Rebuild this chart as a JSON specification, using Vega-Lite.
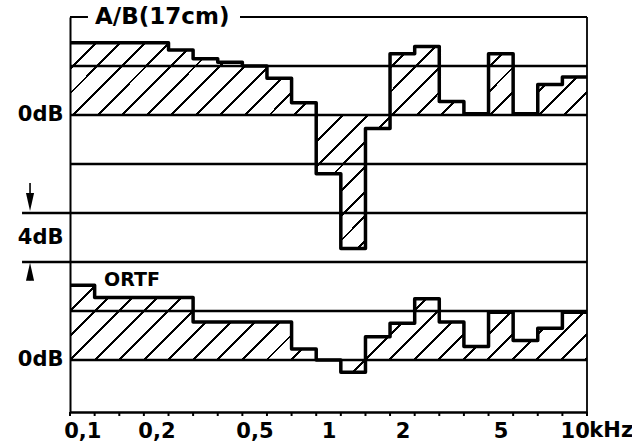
{
  "$schema": "https://vega.github.io/schema/vega-lite/v6.json",
  "width": 517,
  "height": 395,
  "autosize": {"type": "none"},
  "padding": {"left": 70, "top": 17, "right": 45, "bottom": 29},
  "background": "white",
  "config": {"view": {"stroke": null}, "font": "DejaVu Sans"},
  "datasets": {
    "ab": [
      {"f": 0.0891, "db": 5.9}, {"f": 0.1122, "db": 5.9}, {"f": 0.1413, "db": 5.9}, {"f": 0.1778, "db": 5.9},
      {"f": 0.2239, "db": 5.3}, {"f": 0.2818, "db": 4.6}, {"f": 0.3548, "db": 4.3}, {"f": 0.4467, "db": 4.0},
      {"f": 0.5623, "db": 3.0}, {"f": 0.7079, "db": 1.0}, {"f": 0.8913, "db": -4.8}, {"f": 1.122, "db": -10.9},
      {"f": 1.413, "db": -1.1}, {"f": 1.778, "db": 5.0}, {"f": 2.239, "db": 5.6}, {"f": 2.818, "db": 1.1},
      {"f": 3.548, "db": 0.1}, {"f": 4.467, "db": 5.0}, {"f": 5.623, "db": 0.1}, {"f": 7.079, "db": 2.5},
      {"f": 8.913, "db": 3.1}, {"f": 11.22, "db": 3.1}
    ],
    "ortf": [
      {"f": 0.0891, "db": 6.1}, {"f": 0.1122, "db": 5.1}, {"f": 0.1413, "db": 5.1}, {"f": 0.1778, "db": 5.1},
      {"f": 0.2239, "db": 5.1}, {"f": 0.2818, "db": 3.1}, {"f": 0.3548, "db": 3.1}, {"f": 0.4467, "db": 3.1},
      {"f": 0.5623, "db": 3.1}, {"f": 0.7079, "db": 0.9}, {"f": 0.8913, "db": 0}, {"f": 1.122, "db": -1.0},
      {"f": 1.413, "db": 1.9}, {"f": 1.778, "db": 3.0}, {"f": 2.239, "db": 5.0}, {"f": 2.818, "db": 3.1},
      {"f": 3.548, "db": 1.1}, {"f": 4.467, "db": 3.9}, {"f": 5.623, "db": 1.6}, {"f": 7.079, "db": 2.6},
      {"f": 8.913, "db": 3.9}, {"f": 11.22, "db": 3.9}
    ],
    "levels": [{"lvl": 4}, {"lvl": 0}, {"lvl": -4}, {"lvl": -8}, {"lvl": -12}, {"lvl": -16}, {"lvl": -20}]
  },
  "layer": [
    {
      "data": {"name": "levels"},
      "mark": {"type": "rule", "stroke": "black", "strokeWidth": 2.6},
      "encoding": {
        "x": {
          "datum": 0.0891, "type": "quantitative",
          "scale": {"type": "log", "domain": [0.0891, 11.22], "nice": false},
          "axis": {
            "values": [0.1, 0.2, 0.5, 1, 2, 5, 10],
            "labelExpr": "datum.value == 0.1 ? '0,1' : datum.value == 0.2 ? '0,2' : datum.value == 0.5 ? '0,5' : datum.value == 1 ? '1' : datum.value == 2 ? '2' : datum.value == 5 ? '5' : '10'",
            "ticks": false, "tickSize": 0,
            "domain": true, "domainColor": "black", "domainWidth": 2.5,
            "labelPadding": 8, "labelFont": "DejaVu Sans", "labelFontWeight": "bold", "labelFontSize": 21, "labelColor": "black",
            "labelFlush": false, "labelOverlap": false, "title": null, "grid": false
          }
        },
        "x2": {"datum": 11.22},
        "y": {
          "field": "lvl", "type": "quantitative",
          "scale": {"domain": [-24.245, 8], "nice": false, "zero": false},
          "axis": {
            "values": [0, -10, -20],
            "labelExpr": "datum.value == -10 ? '4dB' : '0dB'",
            "ticks": false, "grid": false, "domain": true, "domainColor": "black", "domainWidth": 2,
            "labelPadding": 7, "labelFont": "DejaVu Sans", "labelFontWeight": "bold", "labelFontSize": 21, "labelColor": "black",
            "labelOverlap": false, "title": null
          }
        }
      }
    },
    {
      "data": {"name": "ab"},
      "mark": {
        "type": "area",
        "interpolate": "step-after",
        "fill": {
          "gradient": "linear", "x1": 0, "y1": 0, "x2": 1.2068, "y2": 0.4774,
          "stops": [
            {"offset": 0, "color": "black"}, {"offset": 0.004, "color": "black"}, {"offset": 0.004, "color": "transparent"}, {"offset": 0.034, "color": "transparent"},
            {"offset": 0.034, "color": "black"}, {"offset": 0.038, "color": "black"}, {"offset": 0.038, "color": "transparent"}, {"offset": 0.068, "color": "transparent"},
            {"offset": 0.068, "color": "black"}, {"offset": 0.072, "color": "black"}, {"offset": 0.072, "color": "transparent"}, {"offset": 0.102, "color": "transparent"},
            {"offset": 0.102, "color": "black"}, {"offset": 0.106, "color": "black"}, {"offset": 0.106, "color": "transparent"}, {"offset": 0.136, "color": "transparent"},
            {"offset": 0.136, "color": "black"}, {"offset": 0.14, "color": "black"}, {"offset": 0.14, "color": "transparent"}, {"offset": 0.17, "color": "transparent"},
            {"offset": 0.17, "color": "black"}, {"offset": 0.174, "color": "black"}, {"offset": 0.174, "color": "transparent"}, {"offset": 0.204, "color": "transparent"},
            {"offset": 0.204, "color": "black"}, {"offset": 0.208, "color": "black"}, {"offset": 0.208, "color": "transparent"}, {"offset": 0.238, "color": "transparent"},
            {"offset": 0.238, "color": "black"}, {"offset": 0.242, "color": "black"}, {"offset": 0.242, "color": "transparent"}, {"offset": 0.272, "color": "transparent"},
            {"offset": 0.272, "color": "black"}, {"offset": 0.276, "color": "black"}, {"offset": 0.276, "color": "transparent"}, {"offset": 0.306, "color": "transparent"},
            {"offset": 0.306, "color": "black"}, {"offset": 0.31, "color": "black"}, {"offset": 0.31, "color": "transparent"}, {"offset": 0.34, "color": "transparent"},
            {"offset": 0.34, "color": "black"}, {"offset": 0.344, "color": "black"}, {"offset": 0.344, "color": "transparent"}, {"offset": 0.374, "color": "transparent"},
            {"offset": 0.374, "color": "black"}, {"offset": 0.378, "color": "black"}, {"offset": 0.378, "color": "transparent"}, {"offset": 0.408, "color": "transparent"},
            {"offset": 0.408, "color": "black"}, {"offset": 0.412, "color": "black"}, {"offset": 0.412, "color": "transparent"}, {"offset": 0.442, "color": "transparent"},
            {"offset": 0.442, "color": "black"}, {"offset": 0.446, "color": "black"}, {"offset": 0.446, "color": "transparent"}, {"offset": 0.476, "color": "transparent"},
            {"offset": 0.476, "color": "black"}, {"offset": 0.48, "color": "black"}, {"offset": 0.48, "color": "transparent"}, {"offset": 0.51, "color": "transparent"},
            {"offset": 0.51, "color": "black"}, {"offset": 0.514, "color": "black"}, {"offset": 0.514, "color": "transparent"}, {"offset": 0.544, "color": "transparent"},
            {"offset": 0.544, "color": "black"}, {"offset": 0.548, "color": "black"}, {"offset": 0.548, "color": "transparent"}, {"offset": 0.578, "color": "transparent"},
            {"offset": 0.578, "color": "black"}, {"offset": 0.582, "color": "black"}, {"offset": 0.582, "color": "transparent"}, {"offset": 0.612, "color": "transparent"},
            {"offset": 0.612, "color": "black"}, {"offset": 0.616, "color": "black"}, {"offset": 0.616, "color": "transparent"}, {"offset": 0.646, "color": "transparent"},
            {"offset": 0.646, "color": "black"}, {"offset": 0.65, "color": "black"}, {"offset": 0.65, "color": "transparent"}, {"offset": 0.68, "color": "transparent"},
            {"offset": 0.68, "color": "black"}, {"offset": 0.684, "color": "black"}, {"offset": 0.684, "color": "transparent"}, {"offset": 0.714, "color": "transparent"},
            {"offset": 0.714, "color": "black"}, {"offset": 0.718, "color": "black"}, {"offset": 0.718, "color": "transparent"}, {"offset": 0.748, "color": "transparent"},
            {"offset": 0.748, "color": "black"}, {"offset": 0.752, "color": "black"}, {"offset": 0.752, "color": "transparent"}, {"offset": 0.782, "color": "transparent"},
            {"offset": 0.782, "color": "black"}, {"offset": 0.786, "color": "black"}, {"offset": 0.786, "color": "transparent"}, {"offset": 0.816, "color": "transparent"},
            {"offset": 0.816, "color": "black"}, {"offset": 0.82, "color": "black"}, {"offset": 0.82, "color": "transparent"}, {"offset": 0.85, "color": "transparent"},
            {"offset": 0.85, "color": "black"}, {"offset": 0.854, "color": "black"}, {"offset": 0.854, "color": "transparent"}, {"offset": 0.884, "color": "transparent"},
            {"offset": 0.884, "color": "black"}, {"offset": 0.888, "color": "black"}, {"offset": 0.888, "color": "transparent"}, {"offset": 0.918, "color": "transparent"},
            {"offset": 0.918, "color": "black"}, {"offset": 0.922, "color": "black"}, {"offset": 0.922, "color": "transparent"}, {"offset": 0.952, "color": "transparent"},
            {"offset": 0.952, "color": "black"}, {"offset": 0.956, "color": "black"}, {"offset": 0.956, "color": "transparent"}, {"offset": 0.986, "color": "transparent"},
            {"offset": 0.986, "color": "black"}, {"offset": 0.99, "color": "black"}, {"offset": 0.99, "color": "transparent"}, {"offset": 1, "color": "transparent"}
          ]
        }
      },
      "encoding": {
        "x": {"field": "f", "type": "quantitative", "scale": {"type": "log", "domain": [0.0891, 11.22], "nice": false}},
        "y": {"field": "db", "type": "quantitative", "scale": {"domain": [-24.245, 8], "nice": false, "zero": false}, "axis": null},
        "y2": {"datum": 0}
      }
    },
    {
      "data": {"name": "ab"},
      "mark": {"type": "line", "interpolate": "step-after", "stroke": "black", "strokeWidth": 3.5, "strokeJoin": "round"},
      "encoding": {
        "x": {"field": "f", "type": "quantitative", "scale": {"type": "log", "domain": [0.0891, 11.22], "nice": false}},
        "y": {"field": "db", "type": "quantitative", "scale": {"domain": [-24.245, 8], "nice": false, "zero": false}, "axis": null}
      }
    },
    {
      "data": {"name": "ab"},
      "mark": {"type": "rule", "stroke": "black", "strokeWidth": 2},
      "encoding": {
        "x": {"field": "f", "type": "quantitative", "scale": {"type": "log", "domain": [0.0891, 11.22], "nice": false}},
        "y": {"datum": -24.245, "type": "quantitative", "scale": {"domain": [-24.245, 8], "nice": false, "zero": false}, "axis": null},
        "y2": {"datum": -24.57}
      }
    },
    {
      "data": {"name": "ortf"},
      "mark": {
        "type": "area",
        "interpolate": "step-after",
        "fill": {
          "gradient": "linear", "x1": 0, "y1": 0, "x2": 1.1361, "y2": 0.1911,
          "stops": [
            {"offset": 0, "color": "black"}, {"offset": 0.0048, "color": "black"}, {"offset": 0.0048, "color": "transparent"}, {"offset": 0.0406, "color": "transparent"},
            {"offset": 0.0406, "color": "black"}, {"offset": 0.0454, "color": "black"}, {"offset": 0.0454, "color": "transparent"}, {"offset": 0.0812, "color": "transparent"},
            {"offset": 0.0812, "color": "black"}, {"offset": 0.086, "color": "black"}, {"offset": 0.086, "color": "transparent"}, {"offset": 0.1218, "color": "transparent"},
            {"offset": 0.1218, "color": "black"}, {"offset": 0.1266, "color": "black"}, {"offset": 0.1266, "color": "transparent"}, {"offset": 0.1624, "color": "transparent"},
            {"offset": 0.1624, "color": "black"}, {"offset": 0.1672, "color": "black"}, {"offset": 0.1672, "color": "transparent"}, {"offset": 0.203, "color": "transparent"},
            {"offset": 0.203, "color": "black"}, {"offset": 0.2078, "color": "black"}, {"offset": 0.2078, "color": "transparent"}, {"offset": 0.2436, "color": "transparent"},
            {"offset": 0.2436, "color": "black"}, {"offset": 0.2484, "color": "black"}, {"offset": 0.2484, "color": "transparent"}, {"offset": 0.2842, "color": "transparent"},
            {"offset": 0.2842, "color": "black"}, {"offset": 0.289, "color": "black"}, {"offset": 0.289, "color": "transparent"}, {"offset": 0.3248, "color": "transparent"},
            {"offset": 0.3248, "color": "black"}, {"offset": 0.3296, "color": "black"}, {"offset": 0.3296, "color": "transparent"}, {"offset": 0.3654, "color": "transparent"},
            {"offset": 0.3654, "color": "black"}, {"offset": 0.3702, "color": "black"}, {"offset": 0.3702, "color": "transparent"}, {"offset": 0.406, "color": "transparent"},
            {"offset": 0.406, "color": "black"}, {"offset": 0.4108, "color": "black"}, {"offset": 0.4108, "color": "transparent"}, {"offset": 0.4466, "color": "transparent"},
            {"offset": 0.4466, "color": "black"}, {"offset": 0.4514, "color": "black"}, {"offset": 0.4514, "color": "transparent"}, {"offset": 0.4872, "color": "transparent"},
            {"offset": 0.4872, "color": "black"}, {"offset": 0.492, "color": "black"}, {"offset": 0.492, "color": "transparent"}, {"offset": 0.5278, "color": "transparent"},
            {"offset": 0.5278, "color": "black"}, {"offset": 0.5326, "color": "black"}, {"offset": 0.5326, "color": "transparent"}, {"offset": 0.5684, "color": "transparent"},
            {"offset": 0.5684, "color": "black"}, {"offset": 0.5732, "color": "black"}, {"offset": 0.5732, "color": "transparent"}, {"offset": 0.609, "color": "transparent"},
            {"offset": 0.609, "color": "black"}, {"offset": 0.6138, "color": "black"}, {"offset": 0.6138, "color": "transparent"}, {"offset": 0.6496, "color": "transparent"},
            {"offset": 0.6496, "color": "black"}, {"offset": 0.6544, "color": "black"}, {"offset": 0.6544, "color": "transparent"}, {"offset": 0.6902, "color": "transparent"},
            {"offset": 0.6902, "color": "black"}, {"offset": 0.695, "color": "black"}, {"offset": 0.695, "color": "transparent"}, {"offset": 0.7308, "color": "transparent"},
            {"offset": 0.7308, "color": "black"}, {"offset": 0.7356, "color": "black"}, {"offset": 0.7356, "color": "transparent"}, {"offset": 0.7714, "color": "transparent"},
            {"offset": 0.7714, "color": "black"}, {"offset": 0.7762, "color": "black"}, {"offset": 0.7762, "color": "transparent"}, {"offset": 0.812, "color": "transparent"},
            {"offset": 0.812, "color": "black"}, {"offset": 0.8168, "color": "black"}, {"offset": 0.8168, "color": "transparent"}, {"offset": 0.8526, "color": "transparent"},
            {"offset": 0.8526, "color": "black"}, {"offset": 0.8574, "color": "black"}, {"offset": 0.8574, "color": "transparent"}, {"offset": 0.8932, "color": "transparent"},
            {"offset": 0.8932, "color": "black"}, {"offset": 0.898, "color": "black"}, {"offset": 0.898, "color": "transparent"}, {"offset": 0.9338, "color": "transparent"},
            {"offset": 0.9338, "color": "black"}, {"offset": 0.9386, "color": "black"}, {"offset": 0.9386, "color": "transparent"}, {"offset": 0.9744, "color": "transparent"},
            {"offset": 0.9744, "color": "black"}, {"offset": 0.9792, "color": "black"}, {"offset": 0.9792, "color": "transparent"}, {"offset": 1, "color": "transparent"}
          ]
        }
      },
      "encoding": {
        "x": {"field": "f", "type": "quantitative", "scale": {"type": "log", "domain": [0.0891, 11.22], "nice": false}},
        "y": {"field": "db", "type": "quantitative", "scale": {"domain": [-4.245, 28], "nice": false, "zero": false}, "axis": null},
        "y2": {"datum": 0}
      }
    },
    {
      "data": {"name": "ortf"},
      "mark": {"type": "line", "interpolate": "step-after", "stroke": "black", "strokeWidth": 3.5, "strokeJoin": "round"},
      "encoding": {
        "x": {"field": "f", "type": "quantitative", "scale": {"type": "log", "domain": [0.0891, 11.22], "nice": false}},
        "y": {"field": "db", "type": "quantitative", "scale": {"domain": [-4.245, 28], "nice": false, "zero": false}, "axis": null}
      }
    },
    {
      "data": {"values": [{"x": 0.0891, "x2": 0.1054, "y": 8, "y2": 8, "w": 2}, {"x": 0.437, "x2": 11.22, "y": 8, "y2": 8, "w": 2}, {"x": 11.22, "x2": 11.22, "y": -24.245, "y2": 8, "w": 1.8}, {"x": 0.05689, "x2": 0.0891, "y": -8, "y2": -8, "w": 2.6}, {"x": 0.05689, "x2": 0.0891, "y": -12, "y2": -12, "w": 2.6}, {"x": 0.06131, "x2": 0.06131, "y": -5.55, "y2": -7.0, "w": 1.6}, {"x": 0.06131, "x2": 0.06131, "y": -12.8, "y2": -13.5, "w": 1.6}]},
      "mark": {"type": "rule", "stroke": "black"},
      "encoding": {
        "x": {"field": "x", "type": "quantitative", "scale": {"type": "log", "domain": [0.0891, 11.22], "nice": false}},
        "x2": {"field": "x2"},
        "y": {"field": "y", "type": "quantitative", "scale": {"domain": [-24.245, 8], "nice": false, "zero": false}, "axis": null},
        "y2": {"field": "y2"},
        "strokeWidth": {"field": "w", "type": "quantitative", "scale": null, "legend": null}
      }
    },
    {
      "data": {"values": [{"x": 0.06131, "y": -7.1, "s": "M -0.45 -1 L 0.45 -1 L 0 1 Z"}, {"x": 0.06131, "y": -12.8, "s": "M -0.45 1 L 0.45 1 L 0 -1 Z"}]},
      "mark": {"type": "point", "size": 324, "filled": true, "color": "black", "opacity": 1},
      "encoding": {
        "x": {"field": "x", "type": "quantitative", "scale": {"type": "log", "domain": [0.0891, 11.22], "nice": false}},
        "y": {"field": "y", "type": "quantitative", "scale": {"domain": [-24.245, 8], "nice": false, "zero": false}, "axis": null},
        "shape": {"field": "s", "type": "nominal", "scale": null, "legend": null}
      }
    },
    {
      "data": {"values": [{"x": 0.1126, "y": 8, "t": "A/B(17cm)", "s": 23}, {"x": 0.1225, "y": -13.47, "t": "ORTF", "s": 19}]},
      "mark": {"type": "text", "font": "DejaVu Sans", "fontWeight": "bold", "align": "left", "baseline": "middle", "color": "black"},
      "encoding": {
        "x": {"field": "x", "type": "quantitative", "scale": {"type": "log", "domain": [0.0891, 11.22], "nice": false}},
        "y": {"field": "y", "type": "quantitative", "scale": {"domain": [-24.245, 8], "nice": false, "zero": false}, "axis": null},
        "text": {"field": "t"},
        "size": {"field": "s", "type": "quantitative", "scale": null, "legend": null}
      }
    },
    {
      "data": {"values": [{"x": 11.47, "y": -24.898, "t": "kHz"}]},
      "mark": {"type": "text", "font": "DejaVu Sans", "fontWeight": "bold", "fontSize": 21, "align": "left", "baseline": "top", "color": "black"},
      "encoding": {
        "x": {"field": "x", "type": "quantitative", "scale": {"type": "log", "domain": [0.0891, 11.22], "nice": false}},
        "y": {"field": "y", "type": "quantitative", "scale": {"domain": [-24.245, 8], "nice": false, "zero": false}, "axis": null},
        "text": {"field": "t"}
      }
    }
  ],
  "resolve": {"scale": {"y": "independent"}}
}
